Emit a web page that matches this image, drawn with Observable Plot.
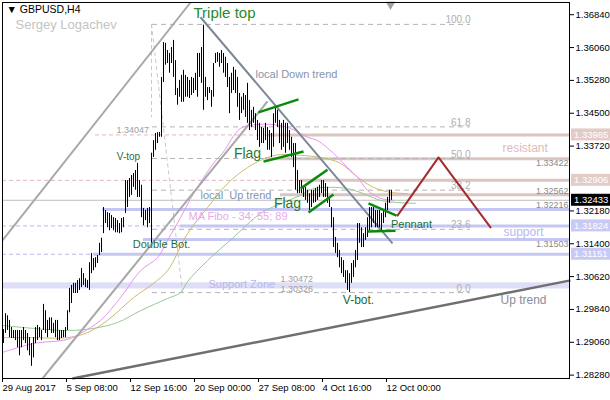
<!DOCTYPE html>
<html><head><meta charset="utf-8">
<script src="https://cdn.jsdelivr.net/npm/d3@7"></script>
<script src="https://cdn.jsdelivr.net/npm/@observablehq/plot@0.6"></script>
<style>body{margin:0;background:#fff}svg{display:block}</style>
</head><body><div id="chart"></div>
<script>
// ---- data ----
const xTickIdx = [0, 32, 64, 96, 128, 160, 192];
const xTickLabels = ["29 Aug 2017","5 Sep 08:00","12 Sep 16:00","20 Sep 00:00","27 Sep 08:00","4 Oct 16:00","12 Oct 00:00"];
const yTicks = [1.3684, 1.3606, 1.3528, 1.3450, 1.3372, 1.3218, 1.3140, 1.3062, 1.2984, 1.2906, 1.2828];

const barHigh = [1.2936,1.2974,1.2969,1.2958,1.2941,1.2934,1.2934,1.2934,1.2934,1.2934,
1.2941,1.2934,1.2927,1.2917,1.2903,1.2917,1.2941,1.2946,1.2941,1.2934,
1.2996,1.2981,1.2958,1.2964,1.2964,1.2951,1.2958,1.2958,1.2934,1.2934,
1.2934,1.2941,1.2981,1.3034,1.3041,1.3046,1.3046,1.3053,1.3057,1.3081,
1.3069,1.3057,1.3053,1.3095,1.3117,1.3105,1.3107,1.3112,1.3141,1.3153,
1.3226,1.3219,1.3214,1.3212,1.3207,1.3202,1.3200,1.3195,1.3188,1.3200,
1.3202,1.3290,1.3290,1.3295,1.3302,1.3307,1.3314,1.3331,1.3290,1.3279,
1.3224,1.3219,1.3224,1.3226,1.3355,1.3385,1.3402,1.3404,1.3404,1.3535,
1.3618,1.3616,1.3599,1.3592,1.3606,1.3623,1.3575,1.3509,1.3528,1.3540,
1.3552,1.3540,1.3535,1.3528,1.3535,1.3533,1.3545,1.3592,1.3592,1.3606,
1.3659,1.3535,1.3511,1.3511,1.3504,1.3568,1.3592,1.3594,1.3592,1.3599,
1.3592,1.3583,1.3568,1.3535,1.3545,1.3559,1.3552,1.3535,1.3497,1.3488,
1.3497,1.3492,1.3521,1.3480,1.3457,1.3464,1.3449,1.3433,1.3426,1.3416,
1.3414,1.3426,1.3416,1.3409,1.3402,1.3449,1.3461,1.3457,1.3433,1.3426,
1.3433,1.3426,1.3426,1.3409,1.3393,1.3378,1.3378,1.3314,1.3290,1.3290,
1.3274,1.3274,1.3267,1.3259,1.3267,1.3267,1.3271,1.3274,1.3279,1.3290,
1.3290,1.3283,1.3274,1.3250,1.3226,1.3202,1.3155,1.3141,1.3124,1.3107,
1.3100,1.3076,1.3076,1.3069,1.3093,1.3100,1.3124,1.3188,1.3188,1.3178,
1.3164,1.3178,1.3202,1.3226,1.3226,1.3226,1.3219,1.3219,1.3219,1.3212,
1.3219,1.3236,1.3250,1.3267,1.3267];
const barLow = [1.2903,1.2927,1.2934,1.2917,1.2915,1.2915,1.2910,1.2893,1.2874,1.2893,
1.2910,1.2903,1.2886,1.2874,1.2849,1.2869,1.2903,1.2910,1.2917,1.2910,
1.2934,1.2927,1.2917,1.2934,1.2927,1.2927,1.2917,1.2910,1.2910,1.2915,
1.2917,1.2917,1.2934,1.2976,1.2998,1.3022,1.3022,1.3022,1.3029,1.3036,
1.3041,1.3036,1.3034,1.3029,1.3069,1.3076,1.3083,1.3093,1.3112,1.3119,
1.3164,1.3188,1.3178,1.3171,1.3176,1.3171,1.3166,1.3166,1.3164,1.3166,
1.3178,1.3212,1.3226,1.3250,1.3255,1.3274,1.3267,1.3250,1.3250,1.3202,
1.3183,1.3195,1.3178,1.3188,1.3141,1.3345,1.3362,1.3378,1.3393,1.3393,
1.3523,1.3564,1.3568,1.3545,1.3568,1.3535,1.3492,1.3469,1.3488,1.3476,
1.3476,1.3488,1.3488,1.3485,1.3492,1.3497,1.3504,1.3488,1.3535,1.3521,
1.3457,1.3488,1.3480,1.3497,1.3464,1.3488,1.3568,1.3571,1.3559,1.3568,
1.3545,1.3535,1.3511,1.3449,1.3497,1.3504,1.3497,1.3464,1.3433,1.3449,
1.3457,1.3440,1.3426,1.3409,1.3416,1.3426,1.3409,1.3385,1.3369,1.3378,
1.3378,1.3385,1.3362,1.3362,1.3345,1.3369,1.3426,1.3416,1.3378,1.3362,
1.3369,1.3355,1.3378,1.3362,1.3345,1.3321,1.3267,1.3259,1.3259,1.3259,
1.3250,1.3243,1.3236,1.3219,1.3226,1.3236,1.3238,1.3243,1.3250,1.3259,
1.3250,1.3250,1.3236,1.3226,1.3178,1.3131,1.3117,1.3107,1.3083,1.3069,
1.3060,1.3046,1.3029,1.3024,1.3046,1.3060,1.3083,1.3100,1.3141,1.3131,
1.3131,1.3148,1.3155,1.3171,1.3178,1.3188,1.3178,1.3178,1.3178,1.3171,
1.3188,1.3202,1.3219,1.3236,1.3243];

// moving averages (bar index, price)
const ma34 = [[-0.5,1.2882],[15,1.2903],[32,1.2913],[38.5,1.2927],[48.5,1.2958],[58.5,1.3012],[68.5,1.3076],[77,1.3107],[82,1.3148],[88.5,1.3202],[95,1.3259],[105,1.3331],[109.5,1.3355],[118.5,1.3414],[127,1.3423],[135,1.3423],[143.5,1.3414],[152,1.3393],[157,1.3385],[165,1.3355],[172,1.3321],[177,1.3298],[182,1.3267],[188.5,1.3248],[195,1.3243]];
const ma55 = [[-0.5,1.2917],[15,1.2917],[32,1.2917],[42,1.2929],[52,1.2958],[65,1.3012],[75,1.3046],[82,1.3076],[92,1.3164],[102,1.3226],[112,1.3283],[122,1.3321],[132,1.3345],[138.5,1.3352],[148.5,1.3350],[158.5,1.3345],[168.5,1.3331],[177,1.3298],[185,1.3274],[193.5,1.3262],[202,1.3259]];
const ma89 = [[-0.5,1.2946],[15,1.2939],[32,1.2934],[45,1.2939],[57,1.2953],[68.5,1.2981],[82,1.3010],[88.5,1.3024],[92,1.3050],[102,1.3100],[115,1.3155],[128.5,1.3212],[140,1.3238],[148.5,1.3255],[155,1.3271],[163.5,1.3274],[172,1.3271],[180,1.3259],[188.5,1.3243],[197,1.3238],[206,1.3236]];

// drawn objects: [idx1, price1, idx2, price2]
const channelLines = [[-0.5,1.3148,93.5,1.3713],[19.5,1.2820,132,1.3478]];
const upTrendLine = [[34.5,1.2820,283.5,1.3053]];
const downTrendLine = [[98.5,1.3678,194.5,1.3141]];
const flagLines = [[127.5,1.3452,147.5,1.3483],[130,1.3335,150,1.3359],[148.5,1.3271,162,1.3316],[152.5,1.3214,165,1.3257],[182.5,1.3236,196.5,1.3207],[182,1.3169,196,1.3171]];
const forecast = [[197,1.3207],[217.5,1.3345],[243.5,1.3179]];
const fibDiag = [[74,1.3661,89.5,1.3024]];

const resistLevels = [1.33985, 1.33422, 1.32906, 1.32562];
const resistFrom = [132, 131, 148.5, 138.5];
const supportLevels = [1.32216, 1.31824, 1.31503, 1.31151];
const supportFrom = [49.5, 88.5, 70, 45];
const lastPrice = 1.32433;
const zoneLow = 1.30326, zoneHigh = 1.30472;
const fibHigh = 1.3661, fibLow = 1.3024;
const fibRatios = [0, 23.6, 38.2, 50.0, 61.8, 100.0];
const boxLabels = [1.33985, 1.32906, 1.32433, 1.31824, 1.31151];
const boxKinds = ["res","res","last","sup","sup"];
const levelLabelsBelow = [1.33422, 1.31503];
const levelLabelsAbove = [1.32562, 1.32216];

// ---- build ----
const bars = barHigh.map((h,i)=>({i, hi:h, lo:barLow[i]}));
const seg = a => a.map(d=>({x1:d[0],y1:d[1],x2:d[2],y2:d[3]}));
const pts = a => a.map(d=>({x:d[0],y:d[1]}));
const fibs = fibRatios.map(r=>({r, p: fibLow + (fibHigh-fibLow)*r/100}));
const RES = "#dcc5c1", SUP = "#c6c6f2";
const font = "Liberation Sans, Arial, sans-serif";

const chart = Plot.plot({
  width: 610, height: 400,
  marginLeft: 2, marginRight: 41, marginTop: 2, marginBottom: 22,
  style: {fontFamily: font, fontSize: "10px", background: "#fff", overflow: "visible"},
  x: {domain: [-0.5, 283], axis: null},
  y: {domain: [1.2820, 1.3713], axis: null},
  marks: [
    Plot.rectY([0], {x1: -0.5, x2: 283, y1: zoneLow, y2: zoneHigh, fill: "#dedef8"}),
    // thin dashed levels
    Plot.ruleY([resistLevels[0]], {x1: 46, x2: 283, stroke: "#e0b8c0", strokeDasharray: "4,3"}),
    Plot.ruleY([resistLevels[2]], {x1: -0.5, x2: 283, stroke: "#e0b8c0", strokeDasharray: "4,3"}),
    Plot.ruleY([supportLevels[1], supportLevels[3]], {x1: -0.5, x2: 283, stroke: "#b8b8f0", strokeDasharray: "4,3"}),
    // thick levels
    Plot.ruleY(resistLevels.map((p,k)=>({p, f: resistFrom[k]})), {y: "p", x1: "f", x2: 283, stroke: RES, strokeWidth: 3}),
    Plot.ruleY(supportLevels.map((p,k)=>({p, f: supportFrom[k]})), {y: "p", x1: "f", x2: 283, stroke: SUP, strokeWidth: 3}),
    Plot.ruleY([lastPrice], {stroke: "#bdbdbd", strokeWidth: 1}),
    // fibonacci
    Plot.ruleY(fibs, {y: "p", x1: 74.5, x2: 233.5, stroke: "#b4b4b4", strokeDasharray: "5,4"}),
    Plot.ruleX([74], {y1: fibHigh, y2: 1.3440, stroke: "#c8c8c8", strokeDasharray: "4,3"}),
    Plot.link(seg(fibDiag), {x1:"x1",y1:"y1",x2:"x2",y2:"y2", stroke: "#c8c8c8", strokeDasharray: "4,3"}),
    Plot.text(fibs, {x: 233.5, y: "p", text: d=>d.r.toFixed(1), textAnchor: "end", lineAnchor: "bottom", dy: -1, fill: "#b0b0b0", fontSize: 10}),
    // moving averages
    Plot.line(pts(ma89), {x:"x", y:"y", stroke: "#96c896", strokeWidth: 1, curve: "catmull-rom"}),
    Plot.line(pts(ma55), {x:"x", y:"y", stroke: "#c8bc6e", strokeWidth: 1, curve: "catmull-rom"}),
    Plot.line(pts(ma34), {x:"x", y:"y", stroke: "#e596ea", strokeWidth: 1, curve: "catmull-rom"}),
    // trend lines
    Plot.link(seg(channelLines), {x1:"x1",y1:"y1",x2:"x2",y2:"y2", stroke: "#a8a8a8", strokeWidth: 2}),
    Plot.link(seg(upTrendLine), {x1:"x1",y1:"y1",x2:"x2",y2:"y2", stroke: "#6f6f6f", strokeWidth: 2.5}),
    Plot.link(seg(downTrendLine), {x1:"x1",y1:"y1",x2:"x2",y2:"y2", stroke: "#7c8898", strokeWidth: 2}),
    // bars
    Plot.ruleX(bars, {x: "i", y1: "lo", y2: "hi", stroke: "#000", strokeWidth: 1}),
    // patterns
    Plot.link(seg(flagLines), {x1:"x1",y1:"y1",x2:"x2",y2:"y2", stroke: "#0a8a0a", strokeWidth: 2.5}),
    Plot.line(pts(forecast), {x:"x", y:"y", stroke: "#a52a2a", strokeWidth: 2}),
    // texts
    Plot.text(["▼ GBPUSD,H4"], {frameAnchor: "top-left", dx: 4, dy: 3, fill: "#000", fontSize: 10.5}),
    Plot.text(["Sergey Logachev"], {frameAnchor: "top-left", dx: 13, dy: 17, fill: "#c4c4c4", fontSize: 13}),
    Plot.text(["Triple top"], {x: 110.5, y: 1.3687, fill: "#2a8a2a", fontSize: 15}),
    Plot.text(["V-top"], {x: 62.5, y: 1.3347, fill: "#2a6e3a", fontSize: 10}),
    Plot.text(["Double Bot."], {x: 79, y: 1.3138, fill: "#2a6e3a", fontSize: 11}),
    Plot.text(["Flag"], {x: 122, y: 1.3354, fill: "#2a7a2a", fontSize: 14}),
    Plot.text(["Flag"], {x: 142, y: 1.3236, fill: "#2a7a2a", fontSize: 14}),
    Plot.text(["Pennant"], {x: 204, y: 1.3186, fill: "#1a6e3a", fontSize: 11}),
    Plot.text(["V-bot."], {x: 177.5, y: 1.3005, fill: "#1a6e3a", fontSize: 12}),
    Plot.text(["local Down trend"], {x: 126, y: 1.3542, textAnchor: "start", fill: "#8494ae", fontSize: 11}),
    Plot.text(["local  Up trend"], {x: 98.5, y: 1.3255, textAnchor: "start", fill: "#8494ae", fontSize: 11}),
    Plot.text(["MA Fibo - 34; 55; 89"], {x: 92.5, y: 1.3205, textAnchor: "start", fill: "#e8a8e8", fontSize: 11}),
    Plot.text(["Support Zone"], {x: 102.5, y: 1.3043, textAnchor: "start", fill: "#b8b8ec", fontSize: 11}),
    Plot.text([zoneHigh], {x: 138.5, y: d=>d, text: d=>d.toFixed(5), textAnchor: "start", lineAnchor: "bottom", dy: -1, fill: "#a0a0a0", fontSize: 9}),
    Plot.text([zoneLow], {x: 138.5, y: d=>d, text: d=>d.toFixed(5), textAnchor: "start", lineAnchor: "top", dy: -3, fill: "#a0a0a0", fontSize: 9}),
    Plot.text([1.34047], {x: 56.5, y: 1.3409, text: d=>d.toFixed(5), textAnchor: "start", fill: "#a0a0a0", fontSize: 9}),
    Plot.text(["Up trend"], {x: 248.5, y: 1.3005, textAnchor: "start", fill: "#8c8c9c", fontSize: 12}),
    Plot.text(["resistant"], {x: 249.5, y: 1.3366, textAnchor: "start", fill: "#e2baba", fontSize: 12}),
    Plot.text(["support"], {x: 250, y: 1.3167, textAnchor: "start", fill: "#b8b8ee", fontSize: 12}),
    Plot.text(levelLabelsBelow, {x: 282.5, y: d=>d, text: d=>d.toFixed(5), textAnchor: "end", lineAnchor: "top", dy: 1, fill: "#8a8a8a", fontSize: 9}),
    Plot.text(levelLabelsAbove, {x: 282.5, y: d=>d, text: d=>d.toFixed(5), textAnchor: "end", lineAnchor: "bottom", dy: -1, fill: "#8a8a8a", fontSize: 9}),
    Plot.dot([0], {x: 193.5, frameAnchor: "top", dy: 2, symbol: "triangle", rotate: 180, r: 3.5, fill: "#a0a0a0"}),
    Plot.frame({stroke: "#000"}),
    Plot.axisX({ticks: xTickIdx, tickFormat: d => xTickLabels[xTickIdx.indexOf(d)], textAnchor: "start", tickSize: 4, tickPadding: 2, fontSize: 9.5, dx: -1}),
    Plot.axisY({anchor: "right", ticks: yTicks, tickFormat: d => d.toFixed(5), tickSize: 4, tickPadding: 2, fontSize: 9.5})
  ]
});

// colored price boxes on the right scale
const ys = chart.scale("y");
const g = d3.select(chart).append("g").attr("font-family", font).attr("font-size", 9.5).attr("text-anchor", "start");
boxLabels.forEach((p,k)=>{
  const y = ys.apply(p);
  const kind = boxKinds[k];
  const bg = kind === "res" ? "#e3cbc8" : kind === "sup" ? "#c9c9f6" : "#000";
  g.append("rect").attr("x", 571).attr("y", y-6).attr("width", 39).attr("height", 12).attr("fill", bg);
  g.append("text").attr("x", 574).attr("y", y).attr("dy", "0.35em").attr("text-anchor", "start").attr("fill", "#fff").text(p.toFixed(5));
});
document.getElementById("chart").appendChild(chart);
</script>
</body></html>
